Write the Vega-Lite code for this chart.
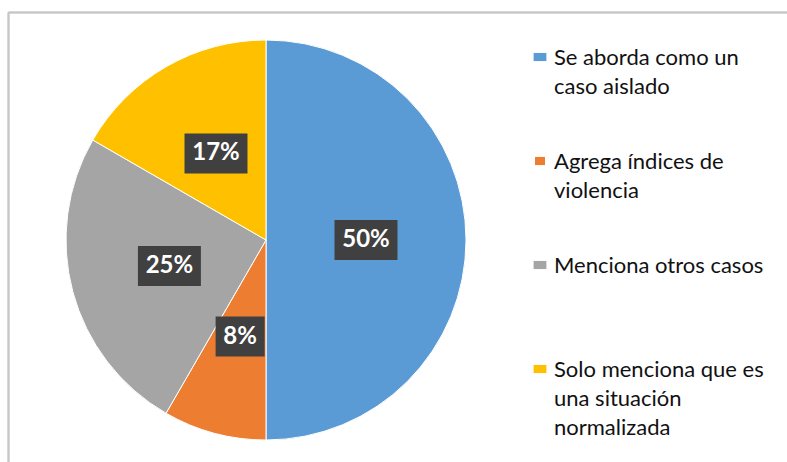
{
  "$schema": "https://vega.github.io/schema/vega-lite/v6.json",
  "width": 400,
  "height": 400,
  "autosize": {"type": "none"},
  "padding": {"left": 66, "top": 40, "right": 321, "bottom": 22},
  "background": "white",
  "config": {"view": {"stroke": null}, "style": {"guide-label": {"lineHeight": 29, "dy": -9}}},
  "data": {
    "values": [
      {"category": "Se aborda como un caso aislado", "share": 0.5, "order": 1},
      {"category": "Agrega índices de violencia", "share": 0.0833, "order": 2},
      {"category": " Menciona otros casos", "share": 0.25, "order": 3},
      {"category": "Solo menciona que es una situación normalizada", "share": 0.1667, "order": 4}
    ]
  },
  "transform": [
    {"window": [{"op": "sum", "field": "share", "as": "cum"}], "sort": [{"field": "order"}]},
    {"calculate": "(datum.cum - datum.share / 2) * 2 * PI", "as": "mid"},
    {"calculate": "0.5 * sin(datum.mid)", "as": "px"},
    {"calculate": "0.5 * cos(datum.mid)", "as": "py"}
  ],
  "layer": [
    {
      "mark": {"type": "rule", "color": "#C6C6C6", "strokeWidth": 1.5},
      "encoding": {
        "x": {"datum": -1.2875, "type": "quantitative", "scale": {"domain": [-1, 1], "nice": false, "zero": false}, "axis": null},
        "y": {"datum": 1.1375, "type": "quantitative", "scale": {"domain": [-1, 1], "nice": false, "zero": false}, "axis": null},
        "y2": {"datum": -1.4}
      }
    },
    {
      "mark": {"type": "rule", "color": "#C6C6C6", "strokeWidth": 1.5},
      "encoding": {
        "x": {"datum": -1.2875, "type": "quantitative"},
        "x2": {"datum": 3},
        "y": {"datum": 1.1375, "type": "quantitative"}
      }
    },
    {
      "mark": {"type": "arc", "stroke": "white", "strokeWidth": 1},
      "encoding": {
        "theta": {"field": "share", "type": "quantitative", "stack": true},
        "order": {"field": "order", "type": "quantitative"},
        "color": {
          "field": "category",
          "type": "nominal",
          "scale": {
            "domain": ["Se aborda como un caso aislado", "Agrega índices de violencia", " Menciona otros casos", "Solo menciona que es una situación normalizada"],
            "range": ["#5B9BD5", "#ED7D31", "#A5A5A5", "#FFC000"]
          },
          "legend": {
            "title": null,
            "orient": "none",
            "legendX": 463,
            "legendY": 6,
            "padding": 0,
            "symbolType": "square",
            "symbolSize": 169,
            "symbolStrokeWidth": 0,
            "symbolOpacity": 1,
            "labelFont": "Lato",
            "labelFontSize": 22,
            "labelColor": "#111111",
            "labelLimit": 300,
            "labelOffset": 3,
            "labelBaseline": "top",
            "rowPadding": 23,
            "labelExpr": "datum.label == 'Se aborda como un caso aislado' ? ['Se aborda como un', 'caso aislado', ''] : datum.label == 'Agrega índices de violencia' ? ['Agrega índices de', 'violencia', ''] : datum.label == 'Solo menciona que es una situación normalizada' ? ['Solo menciona que es', 'una situación', 'normalizada'] : [datum.label, '', '']"
          }
        }
      }
    },
    {
      "mark": {"type": "point", "filled": true, "size": 4096, "color": "#404040", "opacity": 1},
      "encoding": {
        "x": {"field": "px", "type": "quantitative"},
        "y": {"field": "py", "type": "quantitative"},
        "shape": {
          "field": "category",
          "type": "nominal",
          "scale": {
            "domain": ["Se aborda como un caso aislado", "Agrega índices de violencia", " Menciona otros casos", "Solo menciona que es una situación normalizada"],
            "range": ["M-0.984,-0.625H0.984V0.625H-0.984Z", "M-0.766,-0.625H0.766V0.625H-0.766Z", "M-0.984,-0.625H0.984V0.625H-0.984Z", "M-0.984,-0.625H0.984V0.625H-0.984Z"]
          },
          "legend": null
        }
      }
    },
    {
      "mark": {"type": "text", "font": "Lato", "fontWeight": "bold", "fontSize": 24, "color": "white", "align": "center", "baseline": "middle"},
      "encoding": {
        "x": {"field": "px", "type": "quantitative"},
        "y": {"field": "py", "type": "quantitative"},
        "text": {"field": "share", "type": "quantitative", "format": ".0%"}
      }
    }
  ]
}
